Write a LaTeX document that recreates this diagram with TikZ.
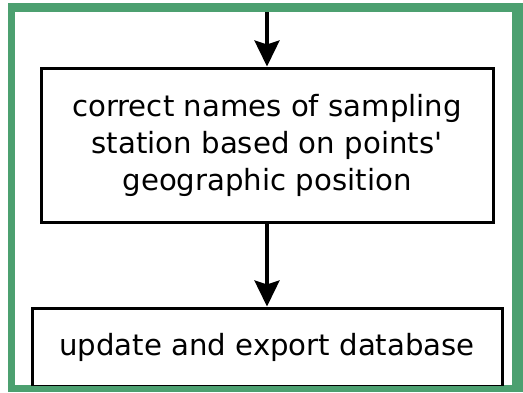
\documentclass[tikz,border=0pt]{standalone}
\usepackage{fontspec}
\setmainfont{DejaVu Sans}
\usetikzlibrary{arrows.meta}
\definecolor{framegreen}{RGB}{76,160,112}
\begin{document}
\begin{tikzpicture}[x=1pt,y=-1pt,
  stepbox/.style={draw=black,line width=3pt,fill=white,inner sep=0pt,font=\fontsize{29.2}{37}\selectfont,align=center},
  flow/.style={line width=3.5pt,-{Stealth[length=26pt,width=25pt,inset=4pt]}}]
\useasboundingbox (0,0) rectangle (523,392);
\fill[white] (0,0) rectangle (523,392);
\fill[framegreen] (8,3) rectangle (523,392);
\fill[white] (15,12) rectangle (512,385);
\begin{scope}
\clip (15,12) rectangle (512,385);
\node[stepbox,minimum width=452pt,minimum height=154pt] (b1) at (267,145)
  {correct names of sampling\\station based on points\textquotesingle\\geographic position};
\node[stepbox,minimum width=470pt,minimum height=78pt] (b2) at (267,347)
  {update and export database};
\coordinate (top) at (267,12);
\draw[flow] (top) -- (b1.north);
\draw[flow] (b1.south) -- (b2.north);
\end{scope}
\end{tikzpicture}
\end{document}
